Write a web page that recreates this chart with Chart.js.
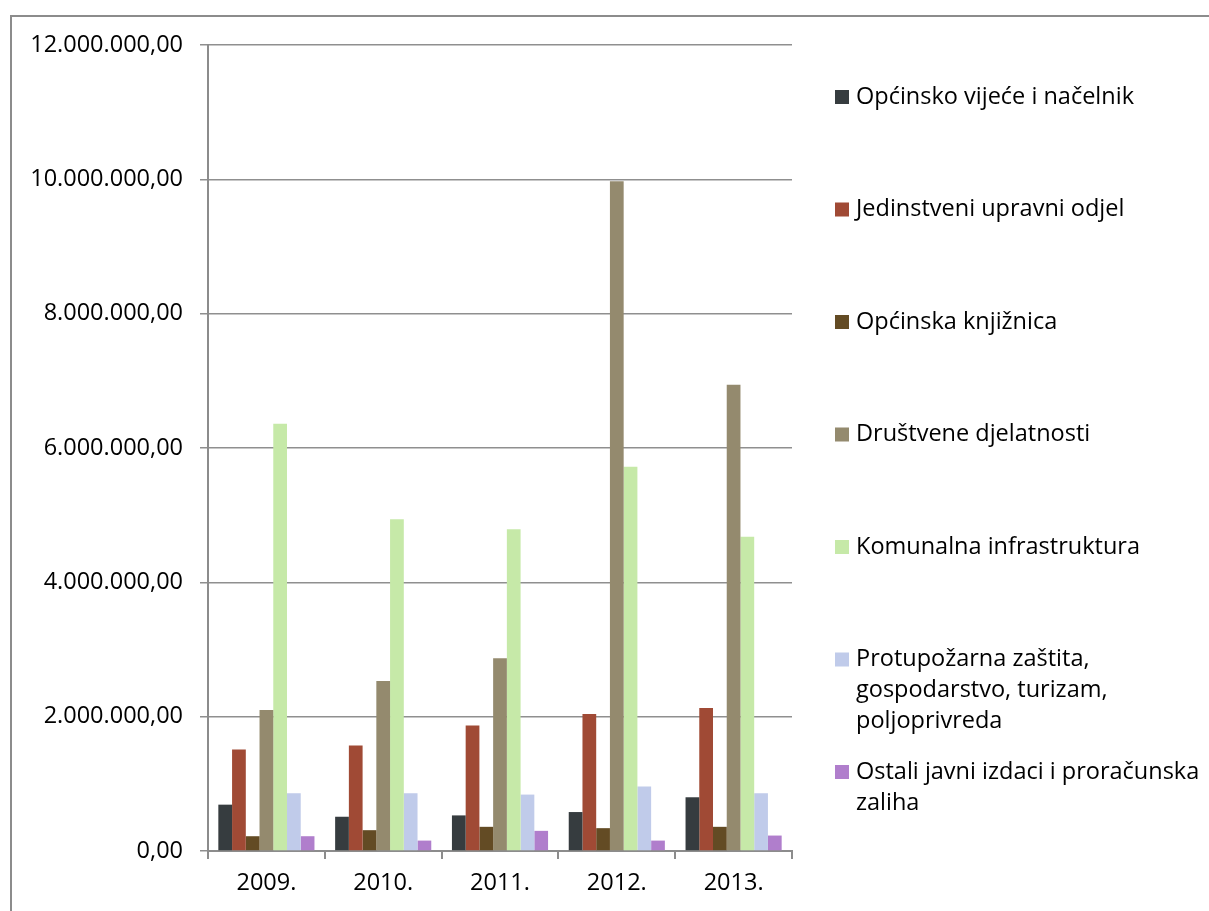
<!DOCTYPE html>
<html>
<head>
<meta charset="utf-8">
<script src="https://cdn.jsdelivr.net/npm/chart.js@4.4.0/dist/chart.umd.min.js"></script>
<style>
    html, body { margin: 0; padding: 0; background: #fff; }
    #wrap { position: relative; width: 1209px; height: 911px; overflow: hidden; }
    #frame {
        position: absolute; left: 10px; top: 15px; right: 0; bottom: 0;
        border-top: 2px solid #8c8c8c; border-left: 2px solid #8c8c8c;
    }
    #budgetChart { position: absolute; left: 0; top: 0; }
</style>
</head>
<body>
<div id="wrap">
    <div id="frame"></div>
    <canvas id="budgetChart" width="1209" height="911"></canvas>
</div>
<script>
// Rashodi po godinama
var years = ['2009.', '2010.', '2011.', '2012.', '2013.'];

var vijece       = [690000, 510000, 530000, 580000, 800000];
var upravni      = [1510000, 1570000, 1870000, 2040000, 2130000];
var knjiznica    = [220000, 310000, 360000, 340000, 360000];
var drustvene    = [2100000, 2530000, 2870000, 9970000, 6940000];
var komunalna    = [6360000, 4940000, 4790000, 5720000, 4680000];
var protupozarna = [860000, 860000, 840000, 960000, 860000];
var ostali       = [220000, 155000, 300000, 155000, 230000];

// legend text, already split into lines as in the original
var seriesNames = [
    ['Općinsko vijeće i načelnik'],
    ['Jedinstveni upravni odjel'],
    ['Općinska knjižnica'],
    ['Društvene djelatnosti'],
    ['Komunalna infrastruktura'],
    ['Protupožarna zaštita,', 'gospodarstvo, turizam,', 'poljoprivreda'],
    ['Ostali javni izdaci i proračunska', 'zaliha']
];
var seriesColors = ['#363c3f', '#a04a35', '#634b24', '#948a6e', '#c6e9a8', '#c0cbea', '#b07ecc'];
var seriesValues = [vijece, upravni, knjiznica, drustvene, komunalna, protupozarna, ostali];

var yTicks = { min: 0, max: 12000000, step: 2000000 };

var FONT = "'Open Sans', sans-serif";
var FONT_SIZE = 23.5;

// 12000000 -> "12.000.000,00"
function formatHr(v) {
    var parts = Number(v).toFixed(2).split('.');
    return parts[0].replace(/\B(?=(\d{3})+(?!\d))/g, '.') + ',' + parts[1];
}

// Legend on the right, drawn by hand so long names can wrap
var sideLegend = {
    id: 'sideLegend',
    afterDraw: function(chart) {
        var c = chart.ctx;
        var x = 835, y0 = 97, step = 112.5, lineH = 31, box = 14;
        c.save();
        c.font = FONT_SIZE + 'px ' + FONT;
        c.textBaseline = 'middle';
        c.textAlign = 'left';
        chart.data.datasets.forEach(function(ds, i) {
            var y = y0 + i * step;
            c.fillStyle = ds.backgroundColor;
            c.fillRect(x, y - box / 2, box, box);
            c.fillStyle = '#000';
            ds.legendLines.forEach(function(line, j) {
                c.fillText(line, x + 21, y + j * lineH);
            });
        });
        c.restore();
    }
};

document.addEventListener('DOMContentLoaded', function() {
    var ctx = document.getElementById('budgetChart');

    var datasets = seriesValues.map(function(vals, i) {
        return {
            label: seriesNames[i].join(' '),
            legendLines: seriesNames[i],
            data: vals,
            backgroundColor: seriesColors[i],
            borderWidth: 0,
            categoryPercentage: 0.823,
            barPercentage: 1.0
        };
    });

    new Chart(ctx, {
        type: 'bar',
        data: { labels: years, datasets: datasets },
        plugins: [sideLegend],
        options: {
            responsive: false,
            animation: false,
            layout: { padding: { top: 45, right: 417, bottom: 0, left: 0 } },
            plugins: {
                legend: { display: false },
                tooltip: { enabled: false }
            },
            scales: {
                x: {
                    grid: {
                        offset: true,
                        drawOnChartArea: false,
                        drawTicks: true,
                        tickLength: 8,
                        color: '#8c8c8c',
                        lineWidth: 2
                    },
                    border: { display: true, color: '#8c8c8c', width: 2 },
                    ticks: {
                        padding: 10,
                        color: '#000',
                        font: { family: FONT, size: FONT_SIZE }
                    },
                    afterFit: function(scale) { scale.height = 60; }
                },
                y: {
                    min: yTicks.min,
                    max: yTicks.max,
                    ticks: {
                        stepSize: yTicks.step,
                        padding: 17,
                        color: '#000',
                        font: { family: FONT, size: FONT_SIZE },
                        callback: function(v) { return formatHr(v); }
                    },
                    grid: {
                        color: '#8f8f8f',
                        lineWidth: 1.5,
                        tickLength: 8,
                        drawTicks: true
                    },
                    border: { display: true, color: '#8c8c8c', width: 2 },
                    afterFit: function(scale) { scale.width = 208; }
                }
            }
        }
    });
});
</script>
</body>
</html>
